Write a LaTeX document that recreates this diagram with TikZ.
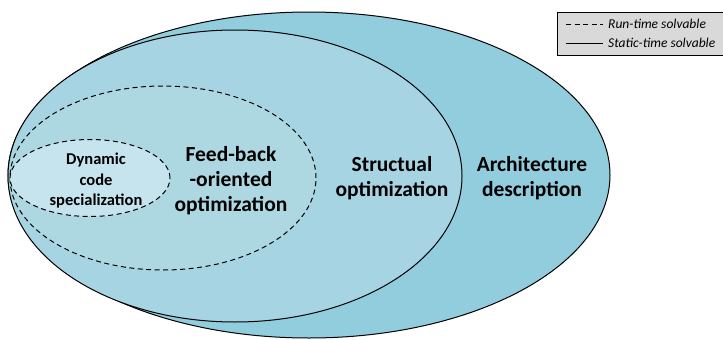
\documentclass[tikz,border=0pt]{standalone}
\usepackage{fontspec}
\setmainfont{Carlito}
\usetikzlibrary{positioning,shapes.geometric}

\definecolor{archblue}{RGB}{146,205,221}
\definecolor{structblue}{RGB}{167,212,227}
\definecolor{feedblue}{RGB}{173,216,226}
\definecolor{dynblue}{RGB}{198,228,237}
\definecolor{legendgray}{RGB}{217,217,217}

\begin{document}
\begin{tikzpicture}[x=1pt,y=-1pt,
    region/.style={draw, ellipse, inner sep=0pt, line width=1pt},
    runtime/.style={dash pattern=on 5pt off 3.5pt},
    label/.style={font=\bfseries\fontsize{21.5}{25}\selectfont, align=center}]
            \useasboundingbox (0,0) rectangle (723,340);
            % Ellipses
            \node[region, fill=archblue, minimum width=602pt, minimum height=326pt] (arch) at (309,175) {};
            \node[region, fill=structblue, minimum width=454pt, minimum height=292pt] (struct) at (235,176) {};
            \node[region, fill=feedblue, runtime, minimum width=306pt, minimum height=184pt] (feed) at (163,178) {};
            \node[region, fill=dynblue, runtime, minimum width=160pt, minimum height=77pt] (dyn) at (90,178) {};
            
            % Labels
            \node[label] (archtext) at (532,178) {Architecture\\description};
            \node[label] (structtext) at (392,178) {Structual\\optimization};
            \node[label] (feedtext) at (231,181) {Feed-back\\-oriented\\optimization};
            \node[font=\bfseries\fontsize{16.5}{20.5}\selectfont, align=center] (dyntext) at (96,181) {Dynamic\\code\\specialization};
            
            % Legend
            \node[draw, rectangle, fill=legendgray, minimum width=166pt, minimum height=43pt, inner sep=0pt, line width=0.6pt] (legend) at (640,33.5) {};
            \coordinate (runA) at (566,24);
            \coordinate (runB) at (603,24);
            \coordinate (statA) at (566,43);
            \coordinate (statB) at (603,43);
            \draw[runtime, line width=1pt] (runA) -- (runB);
            \draw[line width=1pt] (statA) -- (statB);
            \node[right=5pt of runB, inner sep=0pt, font=\itshape\fontsize{13.5}{15}\selectfont] (runtext) {Run-time solvable};
            \node[right=5pt of statB, inner sep=0pt, font=\itshape\fontsize{13.5}{15}\selectfont] (stattext) {Static-time solvable};
        \end{tikzpicture}
\end{document}
